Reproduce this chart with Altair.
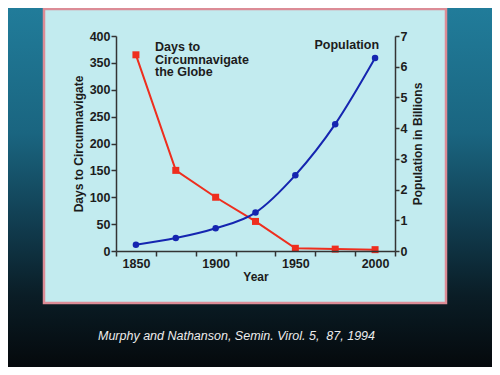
import altair as alt
import pandas as pd

# ---- data ----
years = [1850, 1875, 1900, 1925, 1950, 1975, 2000]
days = [365, 150, 100, 55, 5, 3.5, 2.5]
population = [0.2, 0.42, 0.74, 1.25, 2.47, 4.13, 6.28]

x_labels = [1850, 1900, 1950, 2000]
x_ticks = [1837.5, 1862.5, 1887.5, 1912.5, 1937.5, 1962.5, 1987.5, 2012.5]
days_ticks = [0, 50, 100, 150, 200, 250, 300, 350, 400]
pop_ticks = [0, 1, 2, 3, 4, 5, 6, 7]

days_note = ["Days to", "Circumnavigate", "the Globe"]
pop_note = "Population"
caption = "Murphy and Nathanson, Semin. Virol. 5,\u00a0 87, 1994"

df = pd.DataFrame({"year": years, "days": days, "pop": population})
one = pd.DataFrame({"k": [0]})

FONT = "Liberation Sans"
INK = "#1c1c1c"
RED = "#ee2e1e"
BLUE = "#1525b0"

W, H = 279, 215
PAD = {"left": 108, "top": 28, "right": 97, "bottom": 116}
TOTW = W + PAD["left"] + PAD["right"]
TOTH = H + PAD["top"] + PAD["bottom"]

lab_list = "[" + ",".join(str(v) for v in x_labels) + "]"
x_axis = alt.Axis(
    values=sorted(x_ticks + x_labels),
    format="d",
    title="Year",
    labelExpr=f"indexof({lab_list}, datum.value) >= 0 ? datum.label : ''",
    tickOpacity={"condition": {"test": f"indexof({lab_list}, datum.value) >= 0", "value": 0}, "value": 1},
    labelOverlap=False,
    labelFlush=False,
    tickSize=5,
    labelPadding=1,
    titlePadding=2,
    zindex=2,
)
x_scale = alt.Scale(domain=[x_ticks[0], x_ticks[-1]], nice=False, zero=False)

days_scale = alt.Scale(domain=[0, 400], nice=False)
pop_scale = alt.Scale(domain=[0, 7], nice=False)

days_axis = alt.Axis(values=days_ticks, orient="left", title="Days to Circumnavigate",
                     tickSize=5, labelPadding=1, titlePadding=4, labelOverlap=False, zindex=2)
pop_axis = alt.Axis(values=pop_ticks, orient="right", title="Population in Billions",
                    tickSize=4, labelPadding=1, titlePadding=6, titleAngle=270,
                    titleBaseline="top", labelOverlap=False, zindex=2)

# ---- decorations ----
grad = alt.LinearGradient(
    gradient="linear", x1=0, x2=0, y1=0, y2=1,
    stops=[
        alt.GradientStop(offset=0, color="#217c9a"),
        alt.GradientStop(offset=0.35, color="#1a6580"),
        alt.GradientStop(offset=0.6, color="#113d50"),
        alt.GradientStop(offset=0.8, color="#0a1d26"),
        alt.GradientStop(offset=1, color="#05090c"),
    ],
)
bg = alt.Chart(one).mark_rect(fill=grad).encode(
    x=alt.value(-PAD["left"]), x2=alt.value(TOTW - PAD["left"]),
    y=alt.value(-PAD["top"]), y2=alt.value(TOTH - PAD["top"]),
)
panel = alt.Chart(one).mark_rect(fill="#c2ebef", stroke="#dc8c96", strokeWidth=2.5).encode(
    x=alt.value(-72), x2=alt.value(330),
    y=alt.value(-27), y2=alt.value(267),
)

# ---- days layer ----
base_d = alt.Chart(df).encode(
    x=alt.X("year:Q", scale=x_scale, axis=x_axis),
    y=alt.Y("days:Q", scale=days_scale, axis=days_axis),
)
d_line = base_d.mark_line(color=RED, strokeWidth=2)
d_pts = base_d.mark_point(shape="square", filled=True, size=49, color=RED, opacity=1)
d_note = alt.Chart(one).mark_text(
    text=days_note, align="left", baseline="top", lineHeight=12.7,
    font=FONT, fontSize=12.5, fontWeight="bold", color=INK,
).encode(
    x=alt.X(datum=1862, type="quantitative", scale=x_scale, axis=x_axis),
    y=alt.Y(datum=391, type="quantitative", scale=days_scale, axis=days_axis),
)
days_layer = alt.layer(d_line, d_pts, d_note)

# ---- population layer ----
base_p = alt.Chart(df).encode(
    x=alt.X("year:Q", scale=x_scale, axis=x_axis),
    y=alt.Y("pop:Q", scale=pop_scale, axis=pop_axis),
)
p_line = base_p.mark_line(color=BLUE, strokeWidth=2, interpolate="monotone")
p_pts = base_p.mark_point(shape="circle", filled=True, size=42, color=BLUE, opacity=1)
p_note = alt.Chart(one).mark_text(
    text=pop_note, align="right", baseline="top",
    font=FONT, fontSize=12.5, fontWeight="bold", color=INK,
).encode(
    x=alt.X(datum=2002.5, type="quantitative", scale=x_scale, axis=x_axis),
    y=alt.Y(datum=6.9, type="quantitative", scale=pop_scale, axis=pop_axis),
)
pop_layer = alt.layer(p_line, p_pts, p_note)

cap = alt.Chart(one).mark_text(
    text=caption, align="center", baseline="middle",
    font=FONT, fontSize=12.5, fontStyle="italic", color="#ececec",
).encode(x=alt.value(120.5), y=alt.value(300))

chart = alt.layer(bg, panel, days_layer, pop_layer, cap).resolve_scale(
    y="independent"
).properties(
    width=W, height=H,
    autosize=alt.AutoSizeParams(type="none"),
    padding=PAD,
    background="#0d2530",
).configure_view(stroke=None).configure_axis(
    labelFont=FONT, labelFontSize=12.5, labelFontWeight="bold", labelColor=INK,
    titleFont=FONT, titleFontSize=12, titleFontWeight="bold", titleColor=INK,
    domainColor="#333333", domainWidth=1.5, tickColor="#333333", tickWidth=1.5,
    grid=False,
)

chart.save("out.html", embed_options={"renderer": "svg", "actions": False})
